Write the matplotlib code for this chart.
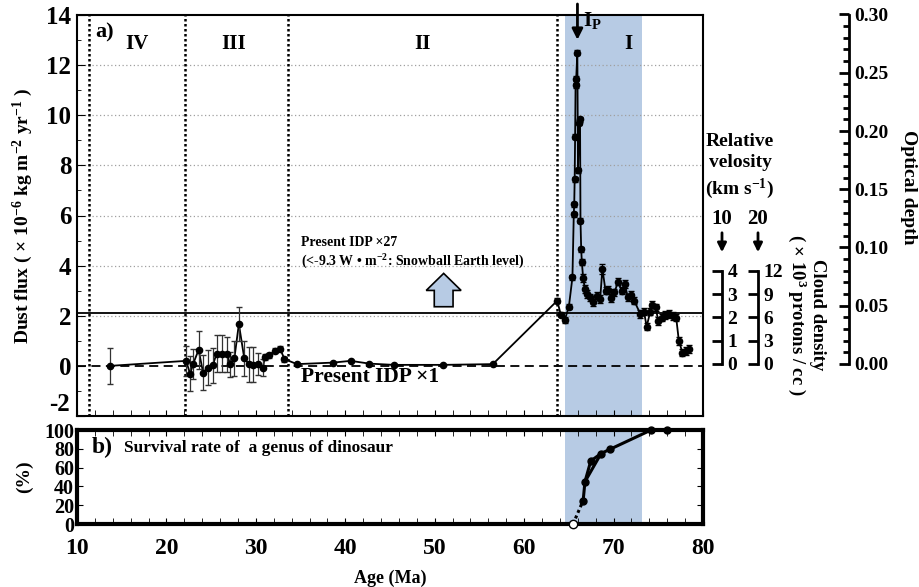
import matplotlib
matplotlib.use('Agg')
import matplotlib.pyplot as plt
from matplotlib.patches import FancyArrow, FancyArrowPatch
from matplotlib.ticker import MultipleLocator, FormatStrFormatter, FuncFormatter

plt.rcParams['font.family'] = ['Liberation Serif', 'DejaVu Serif']
plt.rcParams['font.weight'] = 'bold'
plt.rcParams['axes.labelweight'] = 'bold'
plt.rcParams['axes.unicode_minus'] = False
plt.rcParams['mathtext.fontset'] = 'custom'
plt.rcParams['mathtext.rm'] = 'Liberation Serif:bold'
plt.rcParams['mathtext.bf'] = 'Liberation Serif:bold'
plt.rcParams['mathtext.it'] = 'Liberation Serif:bold'

# dust flux, regions IV / III (with error bars)
age_a = [13.7, 22.2, 22.65, 23.0, 23.6, 24.1, 24.6, 25.2, 25.6, 26.2, 26.8, 27.1,
         27.6, 28.1, 28.7, 29.2, 29.7, 30.2, 30.8, 31.0, 31.5, 32.1, 32.7, 33.2]
flux_a = [0.0, 0.2, -0.32, 0.09, 0.64, -0.27, -0.07, 0.03, 0.49, 0.49, 0.47, 0.07,
          0.31, 1.67, 0.31, 0.07, 0.04, 0.07, -0.07, 0.36, 0.43, 0.6, 0.69, 0.27]
err_a = [0.72, 0.6, 0.7, 0.6, 0.75, 0.7, 0.7, 0.7, 0.75, 0.73, 0.7, 0.5,
         0.7, 0.67, 0.7, 0.7, 0.7, 0.45, 0.35, 0.12, 0.1, 0.1, 0.1, 0.1]

# region II
age_b = [34.6, 38.6, 40.6, 42.7, 45.4, 50.9, 56.5]
flux_b = [0.07, 0.13, 0.2, 0.09, 0.04, 0.04, 0.07]

# region I
age_c = [63.7, 64.1, 64.55, 65.0, 65.4, 65.55, 65.6, 65.65, 65.7, 65.75,
         65.82, 65.95, 66.02, 66.15, 66.25, 66.3, 66.38, 66.45, 66.6, 66.8,
         67.07, 67.4, 67.7, 68.2, 68.5, 68.75, 69.1, 69.4, 69.75, 70.1,
         70.5, 70.9, 71.25, 71.6, 71.9, 72.3, 73.0, 73.4, 73.7, 74.1,
         74.35, 74.7, 75.0, 75.4, 75.8, 76.2, 76.7, 77.0, 77.3, 77.7,
         78.1, 78.45]
flux_c = [2.6, 2.04, 1.84, 2.36, 3.53, 6.05, 6.45, 7.45, 9.15, 11.2,
          11.45, 12.5, 7.8, 9.7, 9.85, 5.8, 4.65, 4.15, 3.5, 3.07,
          2.87, 2.73, 2.53, 2.8, 2.67, 3.87, 3.0, 3.03, 2.71, 2.93,
          3.36, 3.0, 3.27, 2.73, 2.84, 2.6, 2.07, 2.16, 1.57, 2.16,
          2.44, 2.33, 1.8, 1.93, 2.04, 2.07, 2.0, 1.93, 1.0, 0.53,
          0.6, 0.67]
err_c = [0.1, 0.1, 0.12, 0.1, 0.1, 0.1, 0.1, 0.1, 0.1, 0.1,
         0.1, 0.1, 0.1, 0.1, 0.1, 0.1, 0.1, 0.12, 0.15, 0.15,
         0.15, 0.15, 0.15, 0.15, 0.15, 0.2, 0.15, 0.15, 0.15, 0.15,
         0.15, 0.15, 0.15, 0.15, 0.15, 0.15, 0.15, 0.15, 0.15, 0.15,
         0.15, 0.15, 0.15, 0.15, 0.15, 0.15, 0.15, 0.15, 0.15, 0.15,
         0.15, 0.15]

region_bounds = [11.3, 22.1, 33.6, 63.7]
region_names = ['IV', 'III', 'II', 'I']
region_label_x = [16.7, 27.5, 48.6, 71.7]
shade = (64.6, 73.2)
idp_x27 = 2.1

# survival rate of a genus of dinosaur
surv_age = [66.6, 66.8, 67.45, 68.6, 69.6, 74.2, 76.0]
surv_pct = [25, 45, 67, 75, 79.5, 100, 100]
fit_age = [66.8, 68.6]
fit_pct = [45, 75]
extinct_age = 65.47

W, H = 920, 587


def fpos(l, t, r, b):
    return [l / W, 1 - b / H, (r - l) / W, (b - t) / H]


fig = plt.figure(figsize=(9.2, 5.87), dpi=100)
ax1 = fig.add_axes(fpos(77, 15, 703, 416))
ax2 = fig.add_axes(fpos(77, 430, 703, 524))

shade_col = '#b7cbe4'
for ax in (ax1, ax2):
    ax.axvspan(shade[0], shade[1], color=shade_col, lw=0, zorder=0)
    ax.set_xlim(10, 80)
    ax.xaxis.set_major_locator(MultipleLocator(10))
    ax.xaxis.set_minor_locator(MultipleLocator(2))

# ---- panel a
ax1.set_ylim(-2, 14)
for yg in [2, 4, 6, 8, 10, 12]:
    ax1.axhline(yg, color='#a0a0a0', ls=(0, (1, 2)), lw=0.9, zorder=1)
for xb in region_bounds:
    ax1.axvline(xb, color='black', ls=(0, (1, 1)), lw=1.8, zorder=2)
ax1.axhline(0, color='black', ls=(0, (5, 3)), lw=1.3, zorder=2)
ax1.axhline(idp_x27, color='black', lw=1.3, zorder=2)

all_age = age_a + age_b + age_c
all_flux = flux_a + flux_b + flux_c
ax1.plot(all_age, all_flux, color='black', lw=1.3, zorder=4)
ax1.errorbar(age_a, flux_a, yerr=err_a, fmt='o', ms=4.5, color='black',
             ecolor='#333333', elinewidth=0.9, capsize=2, zorder=5)
ax1.plot(age_b, flux_b, 'o', ms=4.5, color='black', zorder=5)
ax1.errorbar(age_c, flux_c, yerr=err_c, fmt='o', ms=4.5, color='black',
             ecolor='black', elinewidth=0.9, capsize=2, zorder=5)

ax1.yaxis.set_major_locator(MultipleLocator(2))
ax1.yaxis.set_minor_locator(MultipleLocator(1))
# the lowest label (-2) is drawn by hand a little higher, clear of panel b
ax1.yaxis.set_major_formatter(FuncFormatter(lambda v, p: '' if v < -1 else '%d' % v))
ax1.tick_params(axis='y', which='both', direction='in', labelsize=18, pad=4)
ax1.tick_params(axis='y', which='major', length=6)
ax1.tick_params(axis='y', which='minor', length=3)
ax1.tick_params(axis='x', which='both', direction='in', labelbottom=False, length=4)
for s in ax1.spines.values():
    s.set_linewidth(1.5)
ax1.text(-0.012, -1.55, '-2', transform=ax1.get_yaxis_transform(), fontsize=18,
         ha='right', va='center')
ax1.set_ylabel('Dust flux ( × 10$^{-6}$ kg m$^{-2}$ yr$^{-1}$ )', fontsize=14, labelpad=8)

ax1.text(12.0, 13.3, 'a)', fontsize=16, va='center', ha='left')
for nm, lx in zip(region_names, region_label_x):
    ax1.text(lx, 12.85, nm, fontsize=15, ha='center', va='center')
ax1.annotate('', xy=(65.96, 12.9), xytext=(65.96, 14.55),
             arrowprops=dict(arrowstyle='-|>', color='black', lw=2, mutation_scale=16),
             annotation_clip=False)
ax1.text(66.6, 13.8, 'I$_{\\mathrm{P}}$', fontsize=15, ha='left', va='center')

ax1.text(35.0, 4.94, 'Present IDP ×27', fontsize=10, va='center', ha='left')
ax1.text(35.0, 4.14, '(<-9.3 W • m$^{-2}$: Snowball Earth level)', fontsize=10,
         va='center', ha='left')
ax1.add_patch(FancyArrow(51.0, 2.36, 0, 1.33, width=2.1, head_width=3.9,
                         head_length=0.68, length_includes_head=True,
                         fc=shade_col, ec='black', lw=1.2, zorder=3))
ax1.text(35.0, -0.45, 'Present IDP ×1', fontsize=15.5, va='center', ha='left')

# ---- panel b
ax2.set_ylim(0, 100)
ax2.plot([extinct_age, surv_age[0]], [0, surv_pct[0]], color='black',
         ls=(0, (1, 1)), lw=2.2, zorder=3)
ax2.plot(surv_age, surv_pct, '-o', color='black', lw=2.2, ms=5, zorder=4, clip_on=False)
ax2.plot(fit_age, fit_pct, '-', color='black', lw=2.2, zorder=4)
ax2.plot([extinct_age], [0], 'o', mfc='white', mec='black', ms=6, zorder=6, clip_on=False)
ax2.yaxis.set_major_locator(MultipleLocator(20))
ax2.tick_params(axis='both', which='both', direction='in', top=True, right=True)
ax2.tick_params(axis='x', which='both', length=4, labelsize=17, pad=10)
ax2.tick_params(axis='y', length=4, labelsize=14.5, pad=2)
for s in ax2.spines.values():
    s.set_linewidth(3)
ax2.set_xlabel('Age (Ma)', fontsize=13, labelpad=8)
ax2.set_ylabel('(%)', fontsize=14, labelpad=8)
ax2.text(11.7, 81, 'b)', fontsize=17, va='center', ha='left')
ax2.text(15.3, 81, 'Survival rate of  a genus of dinosaur', fontsize=12.5,
         va='center', ha='left')


# ---- right side scales
def side_axis(l, t, r, b, lo, hi, major, minor, size):
    a = fig.add_axes(fpos(l, t, r, b))
    a.set_ylim(lo, hi)
    a.patch.set_visible(False)
    for k in ['left', 'top', 'bottom']:
        a.spines[k].set_visible(False)
    a.spines['right'].set_linewidth(2)
    a.set_xticks([])
    a.yaxis.tick_right()
    a.yaxis.set_major_locator(MultipleLocator(major))
    if minor:
        a.yaxis.set_minor_locator(MultipleLocator(minor))
    a.tick_params(axis='y', which='major', direction='in', length=7, width=2,
                  labelsize=size, pad=4)
    a.tick_params(axis='y', which='minor', direction='in', length=4, width=2)
    return a


side_axis(712, 270.7, 722, 364, 0, 4, 1, None, 14)
side_axis(748, 270.7, 758, 364, 0, 12, 3, None, 14)
axod = side_axis(839, 14.5, 849, 364, 0, 0.30, 0.05, 0.01, 14)
axod.yaxis.set_major_formatter(FormatStrFormatter('%.2f'))


def ft(px, py, s, **kw):
    fig.text(px / W, 1 - py / H, s, **kw)


ft(740, 167, 'Relative\nvelosity\n(km s$^{-1}$)', fontsize=14, ha='center',
   va='center', linespacing=1.35)
ft(722, 219, '10', fontsize=15, ha='center', va='center')
ft(758, 219, '20', fontsize=15, ha='center', va='center')
for ax_px in (722, 758):
    fig.add_artist(FancyArrowPatch(
        (ax_px / W, 1 - 230 / H), (ax_px / W, 1 - 255 / H),
        transform=fig.transFigure, arrowstyle='-|>', mutation_scale=13,
        lw=2, color='black'))
ft(806, 315, 'Cloud density\n( × 10$^{3}$ protons / cc )', fontsize=13.5,
   ha='center', va='center', rotation=270, linespacing=1.0)
ft(909, 187, 'Optical depth', fontsize=14, ha='center', va='center', rotation=270)

fig.savefig('out.png', dpi=100)
